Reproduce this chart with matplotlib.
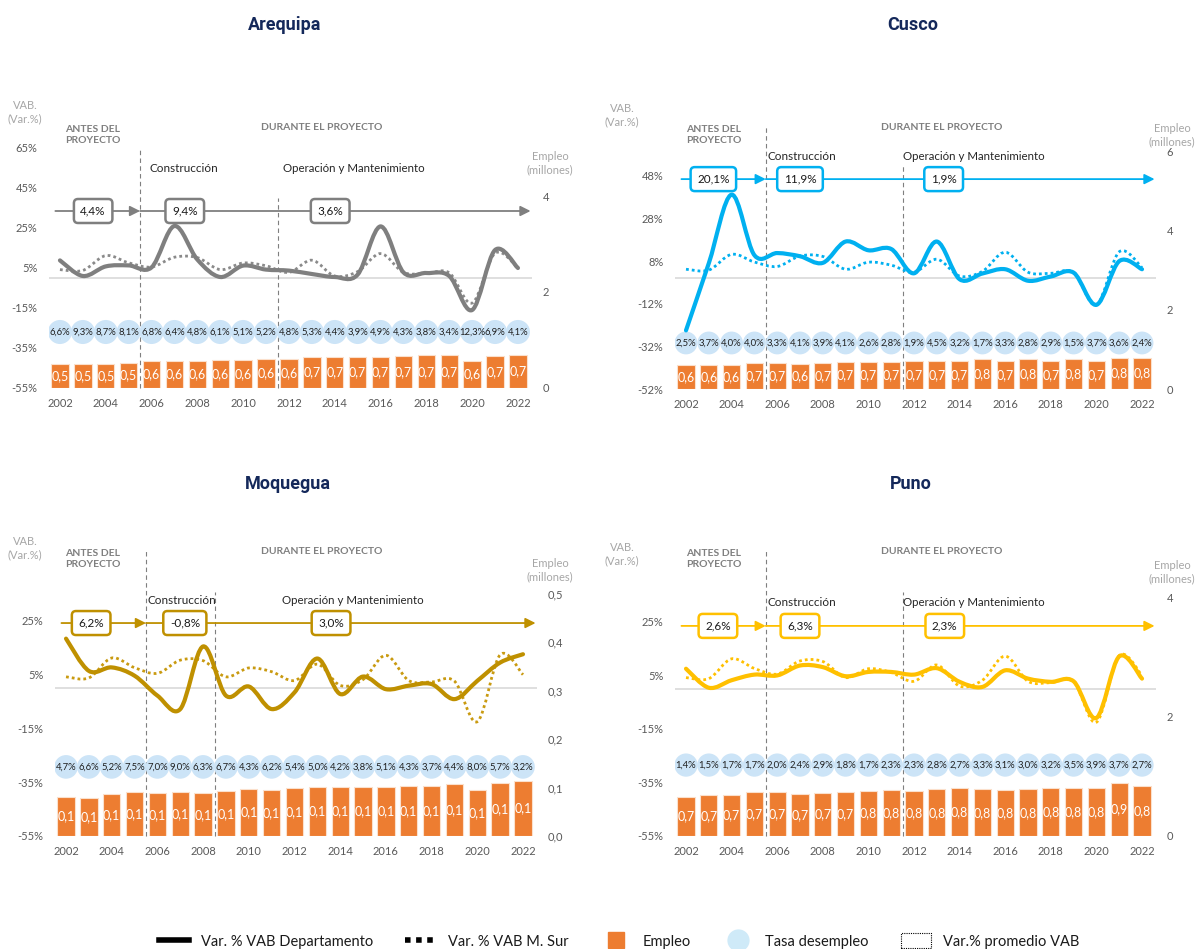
import numpy as np
import matplotlib
matplotlib.use("Agg")
import matplotlib.pyplot as plt
from matplotlib.path import Path
from matplotlib.patches import PathPatch, Patch
from matplotlib.lines import Line2D

plt.rcParams['font.family'] = ['Lato', 'DejaVu Sans']

W, H = 1195, 949

# ---------------- data ----------------
years = list(range(2002, 2023))

vab_msur = [4.2, 3.8, 11.2, 7.6, 5.5, 10.4, 10.2, 4.2, 7.5, 6.1, 2.8, 8.9, 1.0, 3.2,
            12.2, 2.8, 2.3, 2.6, -12.5, 12.4, 5.0]

vab_arequipa = [8.8, 1.0, 5.8, 6.3, 5.3, 26.0, 9.2, 0.5, 6.2, 4.2, 3.7, 2.0, 0.5, 1.7,
                25.8, 2.8, 2.5, 1.0, -16.0, 14.0, 5.0]
vab_cusco = [-24.5, 7.0, 39.2, 10.8, 11.8, 10.3, 7.2, 17.2, 13.1, 13.7, 2.3, 17.2, -0.5,
             2.2, 4.2, -1.2, 0.8, 2.6, -12.5, 8.0, 4.2]
vab_moquegua = [18.4, 6.4, 7.7, 4.6, -2.8, -7.8, 15.5, -2.8, 0.6, -7.8, -1.6, 11.0, -2.2,
                4.3, -0.4, 0.9, 1.5, -4.1, 2.7, 9.5, 12.6]
vab_puno = [7.5, 0.4, 3.2, 5.3, 5.0, 8.7, 8.1, 4.7, 6.3, 6.3, 5.3, 7.7, 2.6, 0.7, 6.9,
            3.8, 2.6, 2.8, -10.9, 12.1, 3.8]

emp_arequipa = [0.50, 0.51, 0.51, 0.52, 0.56, 0.57, 0.57, 0.58, 0.59, 0.61, 0.60, 0.65,
                0.65, 0.65, 0.65, 0.66, 0.68, 0.68, 0.56, 0.66, 0.69]
emp_cusco = [0.61, 0.62, 0.62, 0.67, 0.66, 0.64, 0.67, 0.68, 0.68, 0.69, 0.72, 0.71, 0.72,
             0.76, 0.72, 0.76, 0.72, 0.76, 0.72, 0.79, 0.79]
emp_moquegua = [0.081, 0.079, 0.086, 0.090, 0.088, 0.091, 0.088, 0.092, 0.097, 0.095,
                0.099, 0.102, 0.101, 0.101, 0.102, 0.103, 0.103, 0.108, 0.095, 0.109, 0.114]
emp_puno = [0.66, 0.68, 0.69, 0.74, 0.74, 0.71, 0.72, 0.74, 0.76, 0.77, 0.76, 0.78, 0.80,
            0.78, 0.77, 0.78, 0.80, 0.80, 0.80, 0.89, 0.84]

desemp_arequipa = [6.6, 9.3, 8.7, 8.1, 6.8, 6.4, 4.8, 6.1, 5.1, 5.2, 4.8, 5.3, 4.4, 3.9,
                   4.9, 4.3, 3.8, 3.4, 12.3, 6.9, 4.1]
desemp_cusco = [2.5, 3.7, 4.0, 4.0, 3.3, 4.1, 3.9, 4.1, 2.6, 2.8, 1.9, 4.5, 3.2, 1.7, 3.3,
                2.8, 2.9, 1.5, 3.7, 3.6, 2.4]
desemp_moquegua = [4.7, 6.6, 5.2, 7.5, 7.0, 9.0, 6.3, 6.7, 4.3, 6.2, 5.4, 5.0, 4.2, 3.8,
                   5.1, 4.3, 3.7, 4.4, 8.0, 5.7, 3.2]
desemp_puno = [1.4, 1.5, 1.7, 1.7, 2.0, 2.4, 2.9, 1.8, 1.7, 2.3, 2.3, 2.8, 2.7, 3.3, 3.1,
               3.0, 3.2, 3.5, 3.9, 3.7, 2.7]

prom_arequipa = [4.4, 9.4, 3.6]
prom_cusco = [20.1, 11.9, 1.9]
prom_moquegua = [6.2, -0.8, 3.0]
prom_puno = [2.6, 6.3, 2.3]

inicio_construccion = {"Arequipa": 2005.5, "Cusco": 2005.5, "Moquegua": 2005.5, "Puno": 2005.5}
inicio_operacion = {"Arequipa": 2011.5, "Cusco": 2011.5, "Moquegua": 2008.5, "Puno": 2011.5}


def coma(v, nd=1, pct=True):
    s = f"{v:.{nd}f}".replace('.', ',')
    return s + ('%' if pct else '')


def smooth_path(xs, ys):
    pts = np.column_stack([xs, ys]).astype(float)
    n = len(pts)
    verts = [pts[0]]
    codes = [Path.MOVETO]
    for i in range(n - 1):
        p0 = pts[i - 1] if i > 0 else pts[i]
        p1 = pts[i]
        p2 = pts[i + 1]
        p3 = pts[i + 2] if i + 2 < n else pts[i + 1]
        c1 = p1 + (p2 - p0) / 6.0
        c2 = p2 - (p3 - p1) / 6.0
        verts += [c1, c2, p2]
        codes += [Path.CURVE4] * 3
    return Path(verts, codes)


fig = plt.figure(figsize=(W / 100, H / 100), dpi=100)


def ftxt(px, py, s, **kw):
    return fig.text(px / W, 1 - py / H, s, **kw)


panels = [
    dict(name="Arequipa", vab=vab_arequipa, emp=emp_arequipa, des=desemp_arequipa,
         prom=prom_arequipa, color="#7f7f7f", dotcolor="#8a8a8a",
         rect=(48.5, 148, 531.7, 388), xlim=(2001.5, 2022.6),
         ylim=(-55, 65), yticks=[-55, -35, -15, 5, 25, 45, 65],
         rlim=(0, 5.0), rticks=[0, 2, 4], rnd=0,
         bubble_y=-27, bubble_s=300, arrow_y=33.5, boxes_x=[2003.45, 2007.45, 2013.8],
         title=(285, 25), vab_lbl=(25, 112), emp_lbl=(550, 163), antes=(65, 135),
         durante=(322, 127), constr=(149, 169), oper=(283, 169), d1=150, d2=198),
    dict(name="Cusco", vab=vab_cusco, emp=emp_cusco, des=desemp_cusco,
         prom=prom_cusco, color="#00b0f0", dotcolor="#00b0f0",
         rect=(674.6, 148, 1155.7, 389), xlim=(2001.5, 2022.6),
         ylim=(-52, 61.1), yticks=[-52, -32, -12, 8, 28, 48],
         rlim=(0, 6.1), rticks=[0, 2, 4, 6], rnd=0,
         bubble_y=-30.4, bubble_s=270, arrow_y=46.5, boxes_x=[2003.2, 2007.0, 2013.3],
         title=(913, 25), vab_lbl=(622, 115), emp_lbl=(1172, 135), antes=(686, 135),
         durante=(942, 127), constr=(768, 156), oper=(903, 156), d1=125, d2=165),
    dict(name="Moquegua", vab=vab_moquegua, emp=emp_moquegua, des=desemp_moquegua,
         prom=prom_moquegua, color="#bf9000", dotcolor="#c99a10",
         rect=(54.6, 594, 536.7, 836), xlim=(2001.5, 2022.6),
         ylim=(-55, 35), yticks=[-55, -35, -15, 5, 25],
         rlim=(0, 0.5), rticks=[0, 0.1, 0.2, 0.3, 0.4, 0.5], rnd=1,
         bubble_y=-29.3, bubble_s=290, arrow_y=24.2, boxes_x=[2003.1, 2007.2, 2013.6],
         title=(288, 484), vab_lbl=(25, 548), emp_lbl=(550, 570), antes=(65, 559),
         durante=(322, 551), constr=(148, 601), oper=(282, 601), d1=550, d2=592),
    dict(name="Puno", vab=vab_puno, emp=emp_puno, des=desemp_puno,
         prom=prom_puno, color="#ffc000", dotcolor="#ffc000",
         rect=(674.6, 597, 1155.7, 836), xlim=(2001.5, 2022.6),
         ylim=(-55, 34.3), yticks=[-55, -35, -15, 5, 25],
         rlim=(0, 4.0), rticks=[0, 2, 4], rnd=0,
         bubble_y=-28.5, bubble_s=280, arrow_y=23.5, boxes_x=[2003.4, 2007.0, 2013.35],
         title=(911, 484), vab_lbl=(622, 554), emp_lbl=(1172, 572), antes=(686, 559),
         durante=(942, 551), constr=(768, 602), oper=(903, 602), d1=550, d2=592),
]

GRAY_TICK = "#595959"
GRAY_LBL = "#a6a6a6"

for p in panels:
    l, t, r, b = p["rect"]
    ax = fig.add_axes([l / W, 1 - b / H, (r - l) / W, (b - t) / H])
    tw = ax.twinx()
    ax.set_zorder(tw.get_zorder() + 1)
    ax.patch.set_visible(False)

    for a in (ax, tw):
        for s in a.spines.values():
            s.set_visible(False)

    ax.set_xlim(*p["xlim"])
    ax.set_ylim(*p["ylim"])
    tw.set_ylim(*p["rlim"])
    ax.set_yticks(p["yticks"])
    ax.set_yticklabels([f"{v}%" for v in p["yticks"]])
    tw.set_yticks(p["rticks"])
    tw.set_yticklabels([coma(v, p["rnd"], pct=False) for v in p["rticks"]])
    ax.set_xticks(list(range(2002, 2023, 2)))
    ax.tick_params(axis='both', length=0, labelsize=8, labelcolor=GRAY_TICK)
    ax.tick_params(axis='y', pad=8)
    ax.tick_params(axis='x', pad=7)
    tw.tick_params(axis='y', length=0, labelsize=8, labelcolor=GRAY_TICK, pad=8)

    c = p["color"]

    # bars (employment)
    bars = tw.bar(years, p["emp"], width=0.76, color="#ed7d31", edgecolor="#fbe0cc",
                  linewidth=0.8, zorder=2)
    tw.bar_label(bars, labels=[coma(v, 1, pct=False) for v in p["emp"]],
                 label_type='center', color='white', fontsize=9)

    # zero line
    ax.axhline(0, color="#d9d9d9", lw=1.2, zorder=1)

    # unemployment bubbles
    ax.scatter(years, [p["bubble_y"]] * len(years), s=p["bubble_s"], color="#cce4f7",
               edgecolors='none', zorder=3)
    for x, v in zip(years, p["des"]):
        ax.text(x, p["bubble_y"], coma(v), ha='center', va='center', fontsize=6.8,
                color="#1f1f1f", zorder=4)

    # VAB lines (smoothed)
    ax.add_patch(PathPatch(smooth_path(years, vab_msur), fill=False,
                           edgecolor=p["dotcolor"], lw=2.0, linestyle=(0, (1, 1.1)),
                           zorder=5))
    ax.add_patch(PathPatch(smooth_path(years, p["vab"]), fill=False, edgecolor=c,
                           lw=3.0, capstyle='round', joinstyle='round', zorder=6))

    # phase dashed lines
    x1 = inicio_construccion[p["name"]]
    x2 = inicio_operacion[p["name"]]
    for xv, ptop in ((x1, p["d1"]), (x2, p["d2"])):
        ftop = (b - ptop) / (b - t)
        ax.plot([xv, xv], [0, ftop], transform=ax.get_xaxis_transform(), clip_on=False,
                color="#7f7f7f", lw=0.8, ls=(0, (4, 3)), zorder=2)

    # arrows with average VAB boxes
    ay = p["arrow_y"]
    arrow_kw = dict(arrowstyle='-|>', color=c, lw=1.3, mutation_scale=15,
                    shrinkA=0, shrinkB=0)
    ax.annotate('', xy=(x1, ay), xytext=(2001.8, ay), arrowprops=arrow_kw,
                annotation_clip=False, zorder=7)
    ax.annotate('', xy=(2022.55, ay), xytext=(x1, ay), arrowprops=arrow_kw,
                annotation_clip=False, zorder=7)
    for bx, v in zip(p["boxes_x"], p["prom"]):
        ax.text(bx, ay, coma(v), ha='center', va='center', fontsize=8.5, color="#1a1a1a",
                zorder=8,
                bbox=dict(boxstyle="round,pad=0.55,rounding_size=0.35", fc='white',
                          ec=c, lw=1.8))

    # texts
    ftxt(*p["title"], p["name"], ha='center', va='center', fontsize=13,
         fontweight='bold', color="#14285a", family=['Roboto', 'DejaVu Sans'])
    ftxt(*p["vab_lbl"], "VAB.\n(Var.%)", ha='center', va='center', fontsize=8,
         color=GRAY_LBL, linespacing=1.25)
    ftxt(*p["emp_lbl"], "Empleo\n(millones)", ha='center', va='center', fontsize=8,
         color=GRAY_LBL, linespacing=1.25)
    ftxt(*p["antes"], "ANTES DEL\nPROYECTO", ha='left', va='center', fontsize=7.5,
         fontweight='bold', color="#7f7f7f", linespacing=1.35)
    ftxt(*p["durante"], "DURANTE EL PROYECTO", ha='center', va='center', fontsize=7.5,
         fontweight='bold', color="#7f7f7f")
    ftxt(*p["constr"], "Construcción", ha='left', va='center', fontsize=8.5,
         color="#262626")
    ftxt(*p["oper"], "Operación y Mantenimiento", ha='left', va='center', fontsize=8.3,
         color="#262626")

# legend
handles = [
    Line2D([], [], color='black', lw=4),
    Line2D([], [], color='black', lw=4, linestyle=(0, (1, 1))),
    Line2D([], [], color='#ed7d31', marker='s', markersize=11, linestyle='none'),
    Line2D([], [], color='#cfeaf8', marker='o', markersize=15, linestyle='none'),
    Patch(facecolor='white', edgecolor='black', linestyle=(0, (1, 1)), lw=0.8),
]
labels = ["Var. % VAB Departamento", "Var. % VAB M. Sur", "Empleo", "Tasa desempleo",
          "Var.% promedio VAB"]
leg = fig.legend(handles, labels, loc='center', bbox_to_anchor=(619 / W, 1 - 941 / H),
                 ncol=5, frameon=False, fontsize=10.5, handlelength=2.1,
                 handletextpad=0.8, columnspacing=2.2, handleheight=1.2)
for txt in leg.get_texts():
    txt.set_color("#1a1a1a")

fig.savefig("out.png", dpi=100)
